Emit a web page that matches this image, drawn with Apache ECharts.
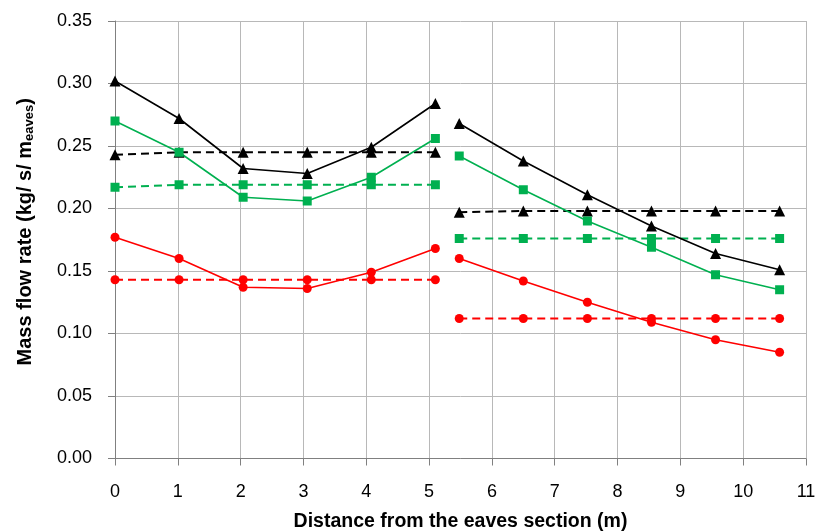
<!DOCTYPE html>
<html><head><meta charset="utf-8">
<script src="https://cdn.jsdelivr.net/npm/echarts@6/dist/echarts.min.js"></script>
<style>html,body{margin:0;padding:0;background:#fff}#c{width:819px;height:531px}</style>
</head><body><div id="c"></div>
<script>
const xLeft = [0, 1.02, 2.04, 3.06, 4.08, 5.1];
const xRight = [5.48, 6.5, 7.52, 8.54, 9.56, 10.58];
const blackSolidL = [0.302, 0.272, 0.232, 0.228, 0.249, 0.284];
const blackSolidR = [0.268, 0.238, 0.211, 0.186, 0.164, 0.151];
const blackDashL = [0.243, 0.245, 0.245, 0.245, 0.245, 0.245];
const blackDashR = [0.197, 0.198, 0.198, 0.198, 0.198, 0.198];
const greenSolidL = [0.270, 0.245, 0.209, 0.206, 0.225, 0.256];
const greenSolidR = [0.242, 0.215, 0.190, 0.169, 0.147, 0.135];
const greenDashL = [0.217, 0.219, 0.219, 0.219, 0.219, 0.219];
const greenDashR = [0.176, 0.176, 0.176, 0.176, 0.176, 0.176];
const redSolidL = [0.177, 0.160, 0.137, 0.136, 0.149, 0.168];
const redSolidR = [0.160, 0.142, 0.125, 0.109, 0.095, 0.085];
const redDashL = [0.143, 0.143, 0.143, 0.143, 0.143, 0.143];
const redDashR = [0.112, 0.112, 0.112, 0.112, 0.112, 0.112];

const pair = (xs, ys) => xs.map((x, i) => [x, ys[i]]);
function mk(xs, ys, color, symbol, size, dashed) {
  return {
    type: 'line', data: pair(xs, ys), symbol: symbol, symbolSize: size,
    itemStyle: {color: color},
    lineStyle: {color: color, width: dashed ? 2 : 1.6, type: dashed ? [8, 5] : 'solid'},
    silent: true, animation: false
  };
}
const BLK = '#000000', GRN = '#00B050', RED = '#FF0000';
const series = [
  mk(xLeft, blackDashL, BLK, 'triangle', 11, true),
  mk(xRight, blackDashR, BLK, 'triangle', 11, true),
  mk(xLeft, greenDashL, GRN, 'rect', 9, true),
  mk(xRight, greenDashR, GRN, 'rect', 9, true),
  mk(xLeft, redDashL, RED, 'circle', 9, true),
  mk(xRight, redDashR, RED, 'circle', 9, true),
  mk(xLeft, blackSolidL, BLK, 'triangle', 11, false),
  mk(xRight, blackSolidR, BLK, 'triangle', 11, false),
  mk(xLeft, greenSolidL, GRN, 'rect', 9, false),
  mk(xRight, greenSolidR, GRN, 'rect', 9, false),
  mk(xLeft, redSolidL, RED, 'circle', 9, false),
  mk(xRight, redSolidR, RED, 'circle', 9, false)
];
const FONT = '"Liberation Sans", Arial, sans-serif';
const chart = echarts.init(document.getElementById('c'), null, {renderer: 'canvas'});
chart.setOption({
  animation: false,
  backgroundColor: '#fff',
  grid: {left: 115, right: 13, top: 21, bottom: 72.5, containLabel: false, outerBoundsMode: 'none'},
  xAxis: {
    type: 'value', min: 0, max: 11, interval: 1,
    name: 'Distance from the eaves section (m)', nameLocation: 'middle', nameGap: 53,
    nameTextStyle: {fontFamily: FONT, fontSize: 19.5, fontWeight: 'bold', color: '#000'},
    axisLine: {show: true, lineStyle: {color: '#808080', width: 1}},
    axisTick: {show: true, inside: false, length: 7, lineStyle: {color: '#808080'}},
    axisLabel: {fontFamily: FONT, fontSize: 18, color: '#000', margin: 25},
    splitLine: {show: true, lineStyle: {color: '#b8b8b8', width: 1}}
  },
  yAxis: {
    type: 'value', min: 0, max: 0.35, interval: 0.05,
    name: '{p|Mass flow rate (kg/ s/ m}{b|eaves}{a|)}', nameLocation: 'middle', nameGap: 78,
    nameTextStyle: {
      fontFamily: FONT, fontSize: 20, fontWeight: 'bold', color: '#000',
      rich: {
        p: {fontFamily: FONT, fontSize: 20, fontWeight: 'bold', color: '#000', lineHeight: 24, padding: [0, 0, 0, 16]},
        a: {fontFamily: FONT, fontSize: 20, fontWeight: 'bold', color: '#000', lineHeight: 24},
        b: {fontFamily: FONT, fontSize: 13, fontWeight: 'bold', color: '#000', lineHeight: 24, padding: [9, 0, 0, 0]}
      }
    },
    axisLine: {show: true, lineStyle: {color: '#808080', width: 1}},
    axisTick: {show: true, inside: false, length: 7, lineStyle: {color: '#808080'}},
    axisLabel: {fontFamily: FONT, fontSize: 18, color: '#000', margin: 23, formatter: v => v.toFixed(2)},
    splitLine: {show: true, lineStyle: {color: '#b8b8b8', width: 1}}
  },
  series: series
});
</script></body></html>
